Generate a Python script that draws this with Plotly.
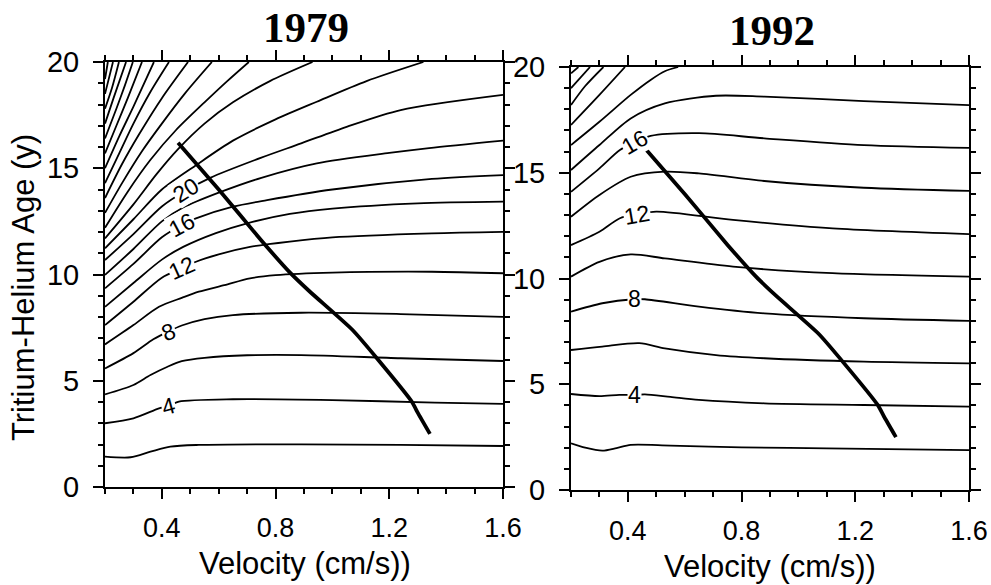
import plotly.graph_objects as go

# ---------------- data ----------------
# thick path (same in both panels): velocity (cm/s) vs tritium-helium age (y)
path_x = [0.457, 0.60, 0.75, 0.85, 0.92, 1.07, 1.16, 1.28, 1.30, 1.343]
path_y = [16.2, 14.0, 11.6, 10.1, 9.2, 7.4, 6.0, 4.0, 3.5, 2.5]

# 1979 contour lines, levels 2..46 step 2
levels_1979 = [2, 4, 6, 8, 10, 12, 14, 16, 18, 20, 22, 24, 26, 28, 30, 32, 34, 36, 38, 40, 42, 44, 46]
cx_1979 = [
    [0.2, 0.29, 0.36, 0.43, 0.53, 0.89, 1.24, 1.6],
    [0.2, 0.3, 0.39, 0.43, 0.46, 0.65, 1.0, 1.36, 1.6],
    [0.2, 0.30, 0.36, 0.42, 0.47, 0.55, 0.7, 0.89, 1.24, 1.6],
    [0.2, 0.3, 0.37, 0.42, 0.47, 0.55, 0.65, 0.89, 1.24, 1.6],
    [0.2, 0.3, 0.39, 0.47, 0.53, 0.62, 0.71, 0.8, 1.0, 1.35, 1.6],
    [0.2, 0.3, 0.4, 0.47, 0.52, 0.6, 0.71, 0.85, 1.0, 1.35, 1.6],
    [0.2, 0.3, 0.4, 0.475, 0.59, 0.70, 0.85, 1.0, 1.3, 1.6],
    [0.2, 0.3, 0.4, 0.47, 0.52, 0.65, 0.77, 1.0, 1.35, 1.6],
    [0.2, 0.3, 0.4, 0.475, 0.6, 0.75, 0.945, 1.2, 1.34, 1.6],
    [0.2, 0.3, 0.4, 0.485, 0.57, 0.75, 0.89, 1.05, 1.24, 1.6],
    [0.2, 0.3, 0.4, 0.523, 0.65, 0.8, 0.945, 1.12, 1.32],
    [0.2, 0.3, 0.38, 0.457, 0.55, 0.65, 0.78, 0.93],
    [0.2, 0.28, 0.36, 0.45, 0.55, 0.63, 0.706],
    [0.2, 0.26, 0.33, 0.40, 0.48, 0.576],
    [0.2, 0.26, 0.32, 0.40, 0.492],
    [0.2, 0.25, 0.30, 0.36, 0.425],
    [0.2, 0.25, 0.30, 0.372],
    [0.2, 0.24, 0.28, 0.33],
    [0.2, 0.24, 0.27, 0.298],
    [0.2, 0.23, 0.274],
    [0.2, 0.225, 0.249],
    [0.2, 0.215, 0.228],
    [0.2, 0.21],
]
cy_1979 = [
    [1.43, 1.40, 1.66, 1.90, 1.98, 2.01, 1.98, 1.93],
    [3.0, 3.23, 3.70, 3.85, 4.02, 4.13, 4.09, 3.97, 3.91],
    [4.36, 4.80, 5.27, 5.66, 5.92, 6.08, 6.2, 6.21, 6.06, 5.93],
    [5.58, 6.3, 6.95, 7.3, 7.6, 7.9, 8.09, 8.2, 8.14, 8.01],
    [6.71, 7.62, 8.48, 8.9, 9.19, 9.5, 9.82, 9.97, 10.09, 10.13, 10.06],
    [7.62, 8.72, 9.85, 10.29, 10.6, 10.95, 11.3, 11.55, 11.75, 11.94, 12.01],
    [8.48, 9.6, 10.7, 11.3, 11.95, 12.41, 12.85, 13.1, 13.35, 13.43],
    [9.35, 10.5, 11.75, 12.33, 12.64, 13.19, 13.5, 14.0, 14.5, 14.68],
    [9.98, 11.2, 12.5, 13.15, 13.85, 14.55, 15.23, 15.72, 15.95, 16.3],
    [10.68, 11.9, 13.2, 13.95, 14.55, 15.5, 16.17, 16.95, 17.74, 18.45],
    [11.23, 12.6, 14.0, 15.17, 16.3, 17.3, 18.13, 19.1, 20.0],
    [11.7, 13.3, 14.7, 15.9, 17.1, 18.1, 19.1, 20.0],
    [12.2, 13.9, 15.4, 16.8, 18.1, 19.1, 20.0],
    [12.9, 14.3, 15.8, 17.1, 18.5, 20.0],
    [13.6, 15.2, 16.6, 18.3, 20.0],
    [14.3, 15.7, 17.1, 18.6, 20.0],
    [15.0, 16.5, 17.9, 20.0],
    [15.7, 17.0, 18.3, 20.0],
    [16.4, 17.8, 18.9, 20.0],
    [17.1, 18.3, 20.0],
    [17.8, 18.8, 20.0],
    [18.5, 19.3, 20.0],
    [19.2, 20.0],
]

# 1992 contour lines, levels 2..28 step 2
levels_1992 = [2, 4, 6, 8, 10, 12, 14, 16, 18, 20, 22, 24, 26, 28]
cx_1992 = [
    [0.2, 0.25, 0.31, 0.36, 0.41, 0.55, 0.8, 1.1, 1.6],
    [0.2, 0.3, 0.37, 0.42, 0.46, 0.55, 0.65, 0.88, 1.23, 1.6],
    [0.2, 0.31, 0.44, 0.53, 0.71, 0.88, 1.23, 1.6],
    [0.2, 0.31, 0.42, 0.46, 0.65, 0.88, 1.23, 1.6],
    [0.2, 0.3, 0.41, 0.53, 0.77, 1.12, 1.6],
    [0.2, 0.3, 0.372, 0.43, 0.5, 0.77, 1.12, 1.6],
    [0.2, 0.3, 0.41, 0.53, 0.65, 0.88, 1.23, 1.6],
    [0.2, 0.3, 0.372, 0.425, 0.48, 0.65, 0.88, 1.23, 1.6],
    [0.2, 0.3, 0.41, 0.53, 0.71, 0.88, 1.23, 1.6],
    [0.2, 0.3, 0.41, 0.48, 0.53, 0.577],
    [0.2, 0.3, 0.39],
    [0.2, 0.25, 0.314],
    [0.2, 0.267],
    [0.2, 0.226],
]
cy_1992 = [
    [2.21, 2.0, 1.86, 1.98, 2.13, 2.1, 2.02, 1.97, 1.89],
    [4.54, 4.44, 4.5, 4.49, 4.52, 4.4, 4.26, 4.1, 4.02, 3.94],
    [6.62, 6.78, 6.94, 6.70, 6.38, 6.23, 6.07, 5.99],
    [8.43, 8.83, 9.02, 9.02, 8.67, 8.35, 8.12, 8.0],
    [10.09, 10.79, 11.14, 10.95, 10.56, 10.25, 10.09],
    [11.58, 12.21, 12.85, 13.02, 13.16, 12.77, 12.37, 12.1],
    [12.92, 13.95, 14.81, 15.05, 14.97, 14.61, 14.29, 14.14],
    [14.1, 15.21, 16.08, 16.44, 16.74, 16.87, 16.63, 16.31, 16.18],
    [15.13, 16.31, 17.57, 18.28, 18.64, 18.6, 18.39, 18.2],
    [16.31, 17.41, 18.68, 19.39, 19.8, 20.0],
    [17.26, 18.68, 20.0],
    [18.2, 19.1, 20.0],
    [19.0, 20.0],
    [19.7, 20.0],
]

# contour labels: text, position, angle
lab_1979_text = ["4", "8", "12", "16", "20"]
lab_1979_x = [0.425, 0.423, 0.47, 0.47, 0.485]
lab_1979_y = [3.81, 7.31, 10.29, 12.33, 13.98]
lab_1979_ang = [-15, -22, -24, -28, -32]

lab_1992_text = ["4", "8", "12", "16"]
lab_1992_x = [0.422, 0.422, 0.431, 0.425]
lab_1992_y = [4.49, 9.02, 13.02, 16.44]
lab_1992_ang = [0, 0, -10, -30]

x_ticks = [0.4, 0.8, 1.2, 1.6]
y_ticks = [0, 5, 10, 15, 20]

# ---------------- figure ----------------
W, H = 991, 585
fig = go.Figure()

LINE = dict(color="black", width=1.8, shape="spline", smoothing=0.8)
for xs, ys in zip(cx_1979, cy_1979):
    fig.add_trace(go.Scatter(x=xs, y=ys, mode="lines", line=LINE,
                             xaxis="x", yaxis="y", hoverinfo="skip", showlegend=False))
for xs, ys in zip(cx_1992, cy_1992):
    fig.add_trace(go.Scatter(x=xs, y=ys, mode="lines", line=LINE,
                             xaxis="x2", yaxis="y2", hoverinfo="skip", showlegend=False))
for xa, ya in (("x", "y"), ("x2", "y2")):
    fig.add_trace(go.Scatter(x=path_x, y=path_y, mode="lines",
                             line=dict(color="black", width=3.8, shape="spline", smoothing=0.5),
                             xaxis=xa, yaxis=ya, hoverinfo="skip", showlegend=False))

TICKFONT_X = dict(family="Liberation Sans, Arial, sans-serif", size=27, color="black")
TICKFONT_Y = dict(family="Liberation Sans, Arial, sans-serif", size=29, color="black")


def xaxis(domain):
    return dict(domain=domain, range=[0.2, 1.6], showgrid=False, zeroline=False,
                automargin=False,
                showline=True, linecolor="black", linewidth=2, mirror="ticks",
                ticks="outside", ticklen=10, tickwidth=2, tickcolor="black",
                tickmode="array", tickvals=x_ticks, ticktext=[f"{v:.1f}" for v in x_ticks],
                tickfont=TICKFONT_X, ticklabelstandoff=6,
                minor=dict(dtick=0.1, tick0=0, ticks="outside", ticklen=5, tickwidth=1.5,
                           tickcolor="black", showgrid=False))


def yaxis(domain, anchor):
    return dict(domain=domain, range=[0, 20], anchor=anchor, showgrid=False, zeroline=False,
                automargin=False,
                showline=True, linecolor="black", linewidth=2, mirror="ticks",
                ticks="outside", ticklen=10, tickwidth=2, tickcolor="black",
                tickmode="array", tickvals=y_ticks, ticktext=[str(v) for v in y_ticks],
                tickfont=TICKFONT_Y, ticklabelstandoff=8,
                minor=dict(dtick=1, tick0=0, ticks="outside", ticklen=5, tickwidth=1.5,
                           tickcolor="black", showgrid=False))


fig.update_layout(
    template="none",
    width=W, height=H, autosize=False,
    margin=dict(l=0, r=0, t=0, b=0, pad=0),
    paper_bgcolor="white", plot_bgcolor="white",
    showlegend=False,
    xaxis=dict(xaxis([105 / W, 503 / W]), anchor="y"),
    yaxis=yaxis([1 - 487 / H, 1 - 62 / H], "x"),
    xaxis2=dict(xaxis([571 / W, 969 / W]), anchor="y2"),
    yaxis2=yaxis([1 - 490 / H, 1 - 67 / H], "x2"),
)

ann = []
LABFONT = dict(family="Liberation Sans, Arial, sans-serif", size=23, color="black")
for t, x, y, a in zip(lab_1979_text, lab_1979_x, lab_1979_y, lab_1979_ang):
    ann.append(dict(text=t, x=x, y=y, xref="x", yref="y", showarrow=False, textangle=a,
                    font=LABFONT, bgcolor="white", borderpad=0))
for t, x, y, a in zip(lab_1992_text, lab_1992_x, lab_1992_y, lab_1992_ang):
    ann.append(dict(text=t, x=x, y=y, xref="x2", yref="y2", showarrow=False, textangle=a,
                    font=LABFONT, bgcolor="white", borderpad=0))

TITLEFONT = dict(family="Liberation Serif, Times New Roman, serif", size=43, color="black")
ann.append(dict(text="<b>1979</b>", x=306 / W, y=1 - 27 / H, xref="paper", yref="paper",
                showarrow=False, font=TITLEFONT, xanchor="center", yanchor="middle"))
ann.append(dict(text="<b>1992</b>", x=772 / W, y=1 - 30 / H, xref="paper", yref="paper",
                showarrow=False, font=TITLEFONT, xanchor="center", yanchor="middle"))

AXFONT = dict(family="Liberation Sans, Arial, sans-serif", size=31, color="black")
ann.append(dict(text="Velocity (cm/s))", x=305 / W, y=1 - 563 / H, xref="paper", yref="paper",
                showarrow=False, font=AXFONT, xanchor="center", yanchor="middle"))
ann.append(dict(text="Velocity (cm/s))", x=770 / W, y=1 - 566 / H, xref="paper", yref="paper",
                showarrow=False, font=AXFONT, xanchor="center", yanchor="middle"))
ann.append(dict(text="Tritium-Helium Age (y)", x=23 / W, y=1 - 288 / H, xref="paper", yref="paper",
                showarrow=False, font=AXFONT, textangle=-90, xanchor="center", yanchor="middle"))

fig.update_layout(annotations=ann)
fig.write_html("out.html")
